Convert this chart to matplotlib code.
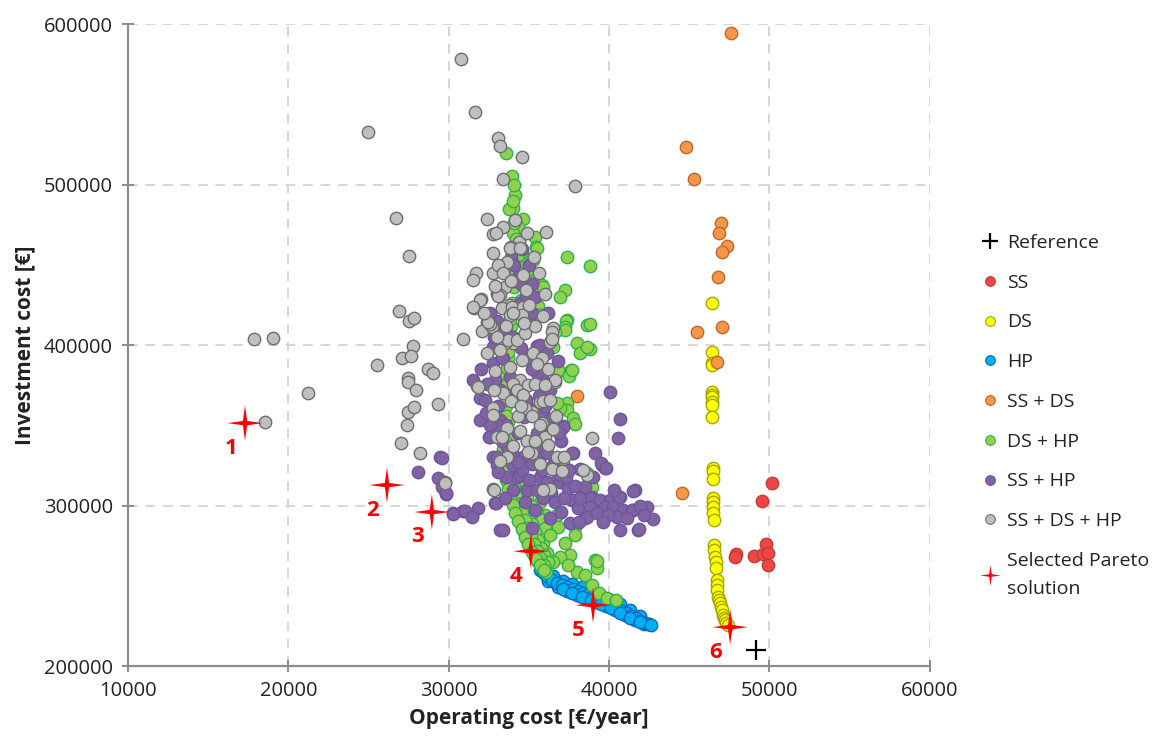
import matplotlib
matplotlib.use("Agg")
import matplotlib.pyplot as plt
from matplotlib.lines import Line2D
import numpy as np

plt.rcParams['font.family'] = ['Open Sans', 'DejaVu Sans']

# data in thousands (k€/year, k€)
ss = [(50.15, 314.0), (49.52, 302.8), (47.90, 269.8), (47.84, 267.9), (49.03, 268.5),
      (49.77, 276.0), (49.59, 269.8), (49.90, 270.4), (49.90, 262.9)]

ds = [(46.41, 426.1), (46.41, 395.6), (46.41, 389.0), (46.41, 387.5), (46.41, 370.7),
      (46.41, 368.9), (46.41, 367.6), (46.41, 364.5), (46.41, 362.6), (46.41, 355.1),
      (46.47, 323.4), (46.47, 321.5), (46.47, 316.5), (46.47, 304.7), (46.47, 302.2),
      (46.47, 299.1), (46.47, 295.3), (46.53, 291.0), (46.53, 275.4), (46.53, 272.3),
      (46.59, 267.9), (46.66, 264.8), (46.66, 261.1), (46.72, 253.6), (46.72, 250.5),
      (46.72, 247.3), (46.78, 243.0), (46.84, 241.1), (46.90, 239.2), (46.96, 236.8),
      (47.03, 234.9), (47.09, 231.8), (47.15, 230.0), (47.22, 228.7), (47.30, 227.0),
      (47.40, 225.5)]

hp = [(35.7, 259.8), (36.0, 257.5), (36.3, 255.0), (36.6, 252.6), (36.9, 251.0), (37.2, 249.8),
      (37.6, 248.5), (37.9, 247.3), (38.2, 246.1), (38.5, 244.8), (38.8, 243.6), (39.1, 242.4),
      (39.4, 241.1), (39.7, 239.8), (40.0, 238.6), (40.3, 237.0), (40.6, 235.5), (40.9, 233.6),
      (41.2, 232.0), (41.5, 230.5), (41.8, 228.9), (42.1, 227.6), (42.4, 226.4),
      (36.2, 253.0), (36.8, 249.5), (37.4, 246.6), (38.0, 244.5), (38.6, 242.0), (39.2, 239.8),
      (39.8, 237.5), (40.4, 234.8), (41.0, 231.6), (41.6, 228.6), (42.2, 226.0),
      (36.5, 256.0), (37.1, 252.8), (37.7, 251.0), (38.3, 249.0), (38.9, 246.5), (39.5, 244.0),
      (40.1, 241.5), (40.7, 238.5), (41.3, 235.0), (41.9, 231.5),
      (35.9, 258.5), (36.15, 256.3), (36.45, 253.8), (36.75, 251.8), (37.05, 250.6), (37.35, 249.2),
      (37.75, 247.8), (38.05, 246.7), (38.35, 245.4), (38.65, 244.2), (38.95, 243.0), (39.25, 241.7),
      (39.55, 240.5), (39.85, 239.2), (40.15, 237.8), (40.45, 236.2), (40.75, 234.6), (41.05, 232.8),
      (41.35, 231.2), (41.65, 229.7), (41.95, 228.2), (42.25, 227.0), (42.5, 226.0),
      (37.1, 247.8), (37.7, 245.5), (38.3, 243.2), (38.9, 240.9), (39.5, 238.6), (40.1, 236.0),
      (40.7, 233.2), (41.3, 230.2), (41.9, 227.6), (42.6, 225.6)]

ss_ds = [(47.59, 594.3), (44.79, 523.3), (45.29, 503.4), (46.97, 476.0), (46.84, 469.8),
         (47.34, 461.7), (47.03, 457.9), (46.78, 442.3), (45.47, 408.1), (47.03, 411.2),
         (46.72, 389.4), (44.54, 307.8), (37.99, 368.2)]

ds_hp = [
    # scattered
    (33.56, 519.6), (33.94, 505.3), (34.13, 493.4), (34.00, 485.3), (33.75, 484.7), (34.62, 478.5),
    (34.13, 477.9), (34.31, 473.5), (35.37, 467.3), (35.44, 461.0), (35.50, 460.4), (37.37, 454.8),
    (38.80, 449.2), (34.62, 450.4), (34.25, 449.8), (35.25, 452.9), (35.19, 443.6), (35.06, 442.3),
    (35.81, 437.4), (35.87, 436.1), (37.24, 434.2), (36.93, 429.9), (35.56, 424.3), (35.68, 418.7),
    (37.37, 415.6), (38.61, 412.4), (38.80, 413.1), (37.31, 414.9), (37.24, 411.2), (37.99, 401.2),
    (38.18, 395.0), (38.80, 397.5), (36.50, 398.7), (38.61, 398.7), (36.87, 383.8), (37.62, 384.4),
    (37.49, 380.6), (36.81, 384.4), (37.68, 384.4), (37.37, 363.8), (37.37, 359.5), (36.93, 360.7),
    (37.74, 354.5), (37.87, 350.8), (36.74, 363.8), (37.24, 409.3), (36.62, 408.1), (38.67, 314.0),
    (38.93, 311.5), (37.12, 326.5), (38.61, 320.2), (35.68, 302.2), (36.74, 294.1), (36.00, 294.1),
    (36.81, 286.6), (37.87, 286.6), (37.87, 281.6), (37.24, 276.6), (37.55, 269.2), (36.93, 267.9),
    (39.11, 266.0), (39.24, 261.1), (37.99, 258.6), (38.49, 256.7), (37.43, 262.9), (36.50, 264.8),
    (36.12, 270.4), (35.87, 276.6), (39.24, 265.4), (38.93, 250.5), (39.36, 245.5), (39.86, 242.4),
    (40.42, 241.1),
    # column inside cluster
    (34.0, 470.0), (34.4, 465.0), (34.6, 458.0), (34.9, 446.0), (34.8, 436.0), (34.5, 428.0),
    (34.2, 420.0), (33.9, 412.0), (33.8, 402.0), (33.7, 392.0), (33.6, 382.0), (33.6, 372.0),
    (33.6, 362.0), (33.7, 352.0), (33.8, 342.0), (33.9, 332.0), (34.1, 322.0), (34.3, 316.0),
    (34.6, 310.0), (34.9, 306.0), (35.2, 300.0), (35.5, 296.0), (35.8, 291.0), (36.0, 286.0),
    (36.3, 282.0),
    (33.5, 340.0), (33.55, 348.0), (33.6, 356.0), (33.6, 366.0), (33.65, 376.0), (33.65, 386.0),
    (33.7, 396.0), (33.75, 406.0), (33.85, 416.0), (33.95, 426.0), (34.1, 436.0), (34.2, 446.0),
    (34.3, 456.0), (34.2, 466.0), (34.1, 476.0), (34.0, 490.0), (34.1, 500.0),
    # front
    (33.50, 331.5), (33.56, 325.2), (33.63, 319.0), (33.69, 314.0), (33.81, 308.4), (33.94, 303.4),
    (34.13, 298.4), (34.31, 293.5), (34.50, 288.5), (34.69, 283.5), (34.87, 278.5), (35.06, 273.5),
    (35.31, 269.2), (35.56, 264.8), (35.81, 261.1), (36.06, 258.6),
    (33.94, 331.5), (34.06, 325.2), (34.19, 319.0), (34.31, 314.0), (34.44, 308.4), (34.62, 303.4),
    (34.81, 298.4), (35.00, 293.5), (35.19, 288.5), (35.37, 283.5), (35.56, 278.5), (35.75, 273.5),
    (35.94, 269.2), (36.19, 264.8),
    (33.69, 328.3), (33.81, 322.1), (33.94, 316.5), (34.06, 311.5), (34.19, 305.9), (34.37, 300.9),
    (34.56, 295.9), (34.75, 291.0), (34.94, 286.0), (35.12, 281.0), (35.31, 276.0), (35.50, 271.6),
    (35.68, 267.3), (35.94, 262.9),
    (33.40, 335.0), (33.45, 328.0), (33.50, 321.0), (33.56, 316.0), (33.69, 310.5), (33.81, 305.5),
    (33.98, 300.5), (34.15, 295.5), (34.35, 290.5), (34.55, 285.5), (34.75, 280.5), (34.95, 275.8),
    (35.18, 271.2), (35.42, 266.8), (35.70, 262.8), (35.95, 260.0)]

ss_hp = [
    (28.08, 320.9), (29.45, 330.2), (29.33, 317.1), (29.57, 311.5), (29.82, 307.2), (30.26, 295.3),
    (30.88, 296.6), (31.44, 293.5), (31.82, 298.4), (32.88, 301.5), (33.19, 284.7), (31.94, 353.3),
    (32.50, 342.7), (32.75, 330.2), (33.00, 325.2), (29.57, 329.6), (29.82, 307.8), (31.01, 296.6),
    (33.00, 330.2), (37.74, 332.7), (39.11, 332.7), (39.55, 325.2), (39.74, 323.4), (30.26, 294.7),
    (31.44, 292.8), (32.94, 301.5), (33.38, 284.7), (35.19, 286.0), (34.75, 302.2), (35.37, 297.2),
    (34.87, 309.6), (35.50, 309.6), (34.25, 317.7), (34.00, 325.2), (34.44, 319.0), (35.68, 317.7),
    (36.12, 314.6), (36.93, 314.6), (37.43, 310.9), (37.68, 303.4), (38.05, 298.4), (38.49, 292.2),
    (37.55, 289.1), (38.49, 311.5), (38.93, 305.3), (39.30, 299.1), (39.86, 302.2), (40.67, 305.3),
    (40.24, 295.9), (40.98, 295.3), (41.48, 297.2), (40.67, 284.7), (41.61, 309.6), (41.79, 284.7),
    (34.62, 330.2), (35.87, 332.7),
    (40.67, 353.9), (40.55, 342.0), (39.49, 326.5), (41.48, 309.0), (38.80, 304.7), (39.42, 303.4),
    (40.05, 303.4), (40.61, 305.3), (39.74, 299.1), (40.24, 299.1), (40.86, 297.2), (41.42, 297.2),
    (42.35, 299.1), (42.73, 291.6), (41.86, 285.4), (38.80, 299.1), (38.61, 292.8), (39.24, 295.3),
    (40.49, 292.8), (41.11, 292.2), (39.92, 294.1),
    (32.75, 398.7), (35.06, 413.7), (35.50, 399.4), (32.75, 388.8), (35.81, 379.4), (40.05, 370.7),
    (37.12, 349.5), (37.68, 332.7), (39.80, 323.4), (38.18, 322.7), (34.31, 442.3), (34.44, 426.1),
    (31.51, 378.2), (31.94, 367.0), (32.26, 365.7), (32.57, 342.7), (33.32, 403.1), (35.68, 400.0),
    (35.50, 382.5), (36.31, 371.9), (35.87, 357.6), (36.31, 353.3), (33.19, 371.9), (33.19, 353.3),
    (33.63, 336.4), (35.68, 336.4), (36.12, 332.7), (37.12, 348.9), (34.00, 331.5),
    (33.0, 415.0), (33.5, 410.0), (34.0, 405.0), (34.5, 398.0), (35.0, 392.0), (35.2, 385.0),
    (33.4, 392.0), (33.8, 380.0), (34.2, 372.0), (34.8, 366.0), (35.3, 360.0), (35.9, 350.0),
    (33.1, 362.0), (33.6, 350.0), (34.3, 345.0), (34.9, 340.0), (35.5, 345.0), (36.0, 340.0),
    (33.3, 340.0), (33.9, 330.0), (34.6, 322.0), (35.2, 326.0), (35.8, 322.0), (36.5, 325.0),
    (33.6, 318.0), (34.0, 310.0), (36.4, 308.0), (36.8, 320.0), (37.3, 318.0), (32.9, 378.0),
    (33.0, 350.0), (36.0, 362.0), (34.7, 355.0), (35.6, 368.0), (32.8, 405.0), (33.8, 423.0),
    (34.8, 430.0), (35.2, 420.0), (34.0, 440.0), (35.0, 450.0), (34.6, 460.0), (33.9, 455.0),
    (32.6, 350.0), (32.3, 358.0), (32.0, 385.0), (32.4, 376.0), (33.1, 321.0), (33.5, 305.0),
    (34.3, 327.0), (35.0, 316.0), (35.9, 305.0), (36.6, 302.0), (37.0, 296.0), (36.3, 292.0),
    (37.9, 312.0), (38.2, 305.0), (37.0, 340.0), (36.9, 345.0), (33.3, 392.0), (32.6, 420.0),
    (33.0, 432.0), (34.1, 450.0), (34.5, 438.0), (35.2, 438.0), (35.4, 430.0), (36.2, 420.0),
    (36.1, 395.0), (36.8, 390.0), (37.5, 322.0), (39.0, 318.0), (40.3, 310.0), (41.9, 300.0),
    (42.2, 294.0), (39.6, 290.0), (38.1, 290.0), (37.2, 305.0)]

ss_ds_hp = [
    (30.76, 578.2), (31.63, 545.1), (24.96, 532.7), (33.07, 528.9), (33.19, 524.0), (34.56, 517.1),
    (33.38, 503.4), (37.87, 499.0), (26.71, 479.1), (27.52, 455.4), (32.38, 478.5), (32.75, 469.1),
    (32.75, 457.3), (32.75, 444.8), (31.69, 444.8), (31.51, 440.5), (26.89, 421.2), (27.52, 414.9),
    (27.83, 416.8), (32.01, 428.6), (31.57, 423.0), (32.38, 414.3), (32.07, 408.7), (32.69, 411.2),
    (30.88, 403.7), (17.86, 403.7), (19.04, 404.3), (27.77, 399.4), (27.08, 391.9), (27.64, 393.1),
    (25.52, 387.5), (28.70, 385.0), (29.01, 382.5), (27.46, 379.4), (21.22, 370.1), (18.54, 352.0),
    (27.46, 376.9), (27.95, 371.9), (27.46, 358.2), (27.83, 361.4), (29.33, 363.2), (27.39, 350.1),
    (27.02, 338.9), (28.20, 332.7), (29.76, 314.6), (32.75, 310.3), (31.76, 374.4),
    (34.37, 464.2), (33.88, 461.0), (33.63, 451.7), (34.62, 443.6), (33.50, 436.1), (33.19, 431.1),
    (33.81, 424.9), (34.13, 477.9), (33.38, 473.5), (36.06, 470.4), (32.94, 469.8), (33.81, 460.4),
    (34.44, 460.4), (34.81, 434.2), (33.07, 430.5), (31.94, 428.0), (31.51, 423.7), (33.32, 423.0),
    (33.94, 423.7), (34.62, 423.7), (34.56, 418.7), (33.81, 418.7), (32.57, 413.1), (36.50, 410.6),
    (32.44, 414.3), (34.00, 419.9), (36.44, 408.1), (36.31, 401.9), (35.25, 395.0), (34.00, 401.2),
    (33.50, 401.2), (36.62, 376.9), (34.44, 378.2), (32.88, 383.8), (38.93, 342.0), (35.81, 351.4),
    (35.19, 358.2), (32.75, 360.7), (38.61, 319.0), (36.74, 329.6), (35.68, 325.8), (36.44, 322.7),
    (32.82, 309.6), (33.19, 396.9), (38.36, 322.1),
    (31.82, 373.8), (32.75, 356.4), (33.00, 342.7), (33.69, 403.1), (34.25, 403.1), (34.75, 407.5),
    (34.56, 390.6), (33.81, 386.3), (34.00, 375.7), (34.94, 375.1), (35.37, 375.7), (34.25, 371.9),
    (34.62, 368.9), (35.68, 364.5), (35.87, 365.1), (36.31, 365.7), (34.75, 360.7), (34.31, 355.7),
    (35.19, 355.7), (35.68, 350.1), (33.63, 348.3), (34.44, 346.4), (34.87, 340.2), (33.32, 342.7),
    (35.19, 332.7), (36.00, 342.7), (36.62, 378.2), (36.44, 403.7), (36.74, 330.2),
    (33.63, 330.2), (34.94, 333.3), (37.06, 321.5), (29.76, 314.0), (36.31, 310.3),
    (33.1, 450.0), (33.4, 445.0), (33.9, 440.0), (34.9, 470.0), (35.3, 455.0), (35.6, 445.0),
    (36.0, 432.0), (35.0, 425.0), (35.9, 418.0), (35.4, 412.0), (34.7, 414.0), (33.6, 412.0),
    (32.9, 437.0), (32.2, 420.0), (32.4, 395.0), (33.0, 405.0), (35.8, 392.0), (36.2, 385.0),
    (35.5, 388.0), (36.0, 375.0), (33.4, 370.0), (32.8, 372.0), (33.9, 365.0), (34.5, 362.0),
    (36.7, 356.0), (36.5, 348.0), (35.4, 340.0), (34.0, 337.0), (33.2, 328.0), (35.9, 310.0),
    (37.2, 330.0), (36.2, 338.0)]

reference = (49.15, 210.0)
pareto_x = [17.3, 26.15, 28.95, 35.12, 39.0, 47.55]
pareto_y = [351.4, 312.8, 296.0, 271.6, 238.0, 224.3]
pareto_labels = ['1', '2', '3', '4', '5', '6']

series = [
    ('SS', ss, '#F04545', '#C23B3B'),
    ('DS', ds, '#FFFF00', '#A6A600'),
    ('HP', hp, '#00B0F0', '#0A6CC0'),
    ('SS + DS', ss_ds, '#F79646', '#B86A30'),
    ('DS + HP', ds_hp, '#92D050', '#2EB34A'),
    ('SS + HP', ss_hp, '#8064A2', '#6E55A0'),
    ('SS + DS + HP', ss_ds_hp, '#BFBFBF', '#6E6E6E'),
]

star = [(0, 1), (0.12, 0.12), (1, 0), (0.12, -0.12), (0, -1), (-0.12, -0.12), (-1, 0), (-0.12, 0.12), (0, 1)]

fig = plt.figure(figsize=(11.74, 7.51), dpi=100)
ax = fig.add_axes([0.109, 0.113, 0.683, 0.855])

for name, pts, fc, ec in series:
    arr = np.array(pts) * 1000
    ax.scatter(arr[:, 0], arr[:, 1], s=80, c=fc, edgecolors=ec, linewidths=1.0, zorder=3)

ax.plot(reference[0] * 1000, reference[1] * 1000, marker='+', color='black',
        markersize=15, mew=1.6, ls='none', zorder=5)
ax.scatter(np.array(pareto_x) * 1000, np.array(pareto_y) * 1000, marker=star, s=650,
           c='#FF0000', edgecolors='none', zorder=6)
for x, y, lab in zip(pareto_x, pareto_y, pareto_labels):
    ax.text(x * 1000 - 900, y * 1000 - 9000, lab, color='#FF0000', fontsize=16,
            fontweight='bold', ha='center', va='top', zorder=7)

ax.set_xlim(10000, 60000)
ax.set_ylim(200000, 600000)
ax.set_xticks(range(10000, 60001, 10000))
ax.set_yticks(range(200000, 600001, 100000))
ax.grid(True, color='#D6D6D6', linestyle=(0, (5, 4)), linewidth=1.4)
ax.set_axisbelow(True)
for s in ['top', 'right']:
    ax.spines[s].set_visible(False)
for s in ['left', 'bottom']:
    ax.spines[s].set_color('#8C8C8C')
    ax.spines[s].set_linewidth(1.6)
ax.tick_params(direction='inout', length=8, width=1.4, color='#8C8C8C',
               labelsize=14.5, labelcolor='#222222', pad=7)

ax.set_xlabel('Operating cost [€/year]', fontsize=15, fontweight='bold', color='#222222', labelpad=5)
ax.set_ylabel('Investment cost [€]', fontsize=15, fontweight='bold', color='#222222', labelpad=6)

handles = [Line2D([], [], marker='+', color='black', markersize=11, mew=1.6, ls='none')]
labels = ['Reference']
for name, pts, fc, ec in series:
    handles.append(Line2D([], [], marker='o', ls='none', markersize=7,
                          markerfacecolor=fc, markeredgecolor=ec, mew=0.8))
    labels.append(name)
handles.append(Line2D([], [], marker=star, ls='none', markersize=15,
                      markerfacecolor='#FF0000', markeredgecolor='none'))
labels.append('Selected Pareto\nsolution')

leg = fig.legend(handles, labels, loc='upper left', bbox_to_anchor=(0.822, 0.712),
                 frameon=False, fontsize=14, labelspacing=1.12, handlelength=0.8,
                 handletextpad=0.45, labelcolor='#222222')
leg.get_texts()[-1].set_linespacing(1.7)

fig.savefig('out.png', dpi=100)
